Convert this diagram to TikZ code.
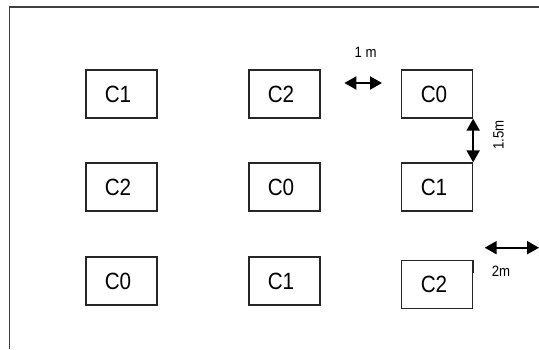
\documentclass[tikz,border=0pt]{standalone}
\usepackage{fontspec}
\setmainfont{Liberation Sans}
\newfontfamily\narrowfont[FakeStretch=0.88]{Liberation Sans}
\usetikzlibrary{arrows.meta}
\tikzset{
  cell/.style={draw=black!85, line width=1.3pt, minimum width=71pt, minimum height=48pt,
    inner sep=0pt, font=\narrowfont\fontsize{23.5pt}{27pt}\selectfont, text=black},
  dim/.style={line width=2pt, {Triangle[length=12pt,width=13pt]}-{Triangle[length=12pt,width=13pt]}},
  dimlabel/.style={font=\narrowfont\fontsize{15pt}{18pt}\selectfont, inner sep=0pt, text=black}
}
\begin{document}
\begin{tikzpicture}[x=1pt,y=-1pt]
\useasboundingbox (0,0) rectangle (539,349);
\fill[white] (0,0) rectangle (539,349);
% frame
\draw[draw=black!75, line width=1.6pt] (9.3,349) -- (9.3,7) -- (539,7);
% boxes
\node[cell] (r1c1) at (121.5,94) {C1\kern7pt};
\node[cell] (r1c2) at (284.5,94) {C2\kern7pt};
\node[cell] (r1c3) at (437,94) {C0\kern6pt};
\node[cell] (r2c1) at (121.5,187) {C2\kern7pt};
\node[cell] (r2c2) at (284.5,187) {C0\kern7pt};
\node[cell] (r2c3) at (437,187) {C1\kern6pt};
\node[cell] (r3c1) at (121.5,281) {C0\kern7pt};
\node[cell] (r3c2) at (284.5,281) {C1\kern7pt};
\node[cell] (r3c3) at (437,284.3) {C2\kern6pt};
% 1 m
\coordinate (a1) at (344.4,83);
\coordinate (a2) at (382,83);
\draw[dim] (a1) -- (a2);
\node[dimlabel] (l1) at (365.7,52.7) {1 m};
% 1.5 m
\draw[dim] (r1c3.south east) -- (r2c3.north east);
\node[dimlabel, rotate=90] (l2) at (498.5,135) {1.5m};
% 2 m
\coordinate (t1) at ([yshift=-13pt]r3c3.north east);
\draw[black!85, line width=1.3pt] (r3c3.north east) -- (t1);
\coordinate (b1) at (484.7,247.7);
\coordinate (b2) at (539,247.7);
\draw[dim] (b1) -- (b2);
\node[dimlabel] (l3) at (501,271) {2m};
\end{tikzpicture}
\end{document}
